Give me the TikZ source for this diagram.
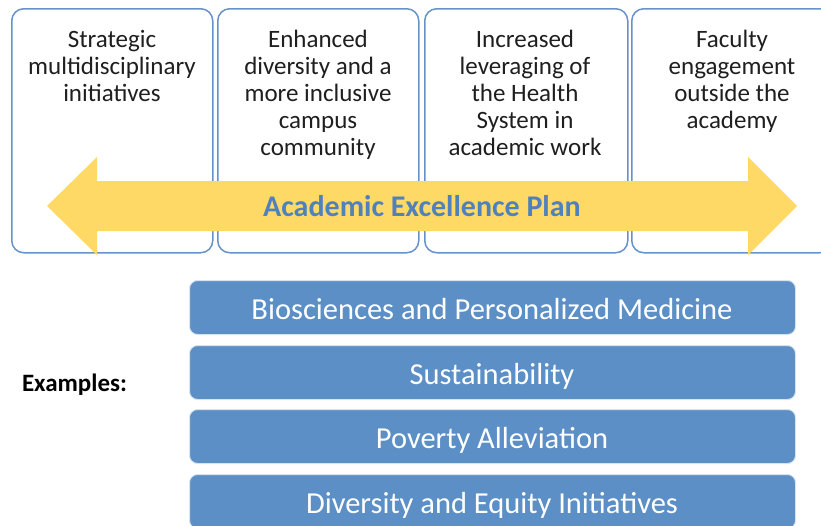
\documentclass[tikz,border=0pt]{standalone}
\usepackage{fontspec}
\setmainfont{Carlito}
\definecolor{boxline}{RGB}{104,146,202}
\definecolor{arrowfill}{RGB}{255,217,102}
\definecolor{plantext}{RGB}{79,129,189}
\definecolor{examplefill}{RGB}{91,143,197}
\begin{document}
\begin{tikzpicture}[x=1pt,y=-1pt,
  topbox/.style={draw=boxline, line width=1.5pt, rounded corners=12pt, fill=white, anchor=north west, minimum height=244pt, inner sep=0pt},
  toptext/.style={anchor=north, align=center, inner sep=0pt, font=\fontsize{25}{27}\selectfont, text=black!88},
  exbox/.style={fill=examplefill, draw=white!75!examplefill, line width=1pt, rounded corners=8pt, anchor=north west, minimum width=606pt, minimum height=54pt, inner sep=0pt},
  extext/.style={anchor=base, inner sep=0pt, text=white, font=\fontsize{30.5}{36}\selectfont}]
\clip (0,0) rectangle (821,525);
\useasboundingbox (0,0) rectangle (821,525);
% top boxes
\node[topbox, minimum width=201pt] (b1) at (11,8) {};
\node[topbox, minimum width=201pt] (b2) at (217,8) {};
\node[topbox, minimum width=203pt] (b3) at (424,8) {};
\node[topbox, minimum width=200pt] (b4) at (631,8) {};
\node[toptext] (t1) at (112,27) {\rule{0pt}{20pt}Strategic\\multidisciplinary\\initiatives};
\node[toptext] (t2) at (318,27) {\rule{0pt}{20pt}Enhanced\\diversity and a\\more inclusive\\campus\\community};
\node[toptext] (t3) at (525,27) {\rule{0pt}{20pt}Increased\\leveraging of\\the Health\\System in\\academic work};
\node[toptext] (t4) at (732,27) {\rule{0pt}{20pt}Faculty\\engagement\\outside the\\academy};
% double arrow
\fill[arrowfill] (47,206) -- (97,157) -- (97,181) -- (748,181) -- (748,157) -- (797,206)
  -- (748,255) -- (748,231) -- (97,231) -- (97,255) -- cycle;
\node[anchor=base, inner sep=0pt, text=plantext, font=\bfseries\fontsize{30}{36}\selectfont] (plan) at (422,216) {Academic Excellence Plan};
% examples
\node[anchor=base, inner sep=0pt, text=black, font=\bfseries\fontsize{25}{30}\selectfont] (ex) at (74.5,391) {Examples:};
\node[exbox] (e1) at (189,280) {};
\node[exbox] (e2) at (189,345) {};
\node[exbox] (e3) at (189,409) {};
\node[exbox] (e4) at (189,474) {};
\node[extext] (x1) at (492,319) {Biosciences and Personalized Medicine};
\node[extext] (x2) at (492,384) {Sustainability};
\node[extext] (x3) at (492,448) {Poverty Alleviation};
\node[extext] (x4) at (492,513) {Diversity and Equity Initiatives};
\end{tikzpicture}
\end{document}
